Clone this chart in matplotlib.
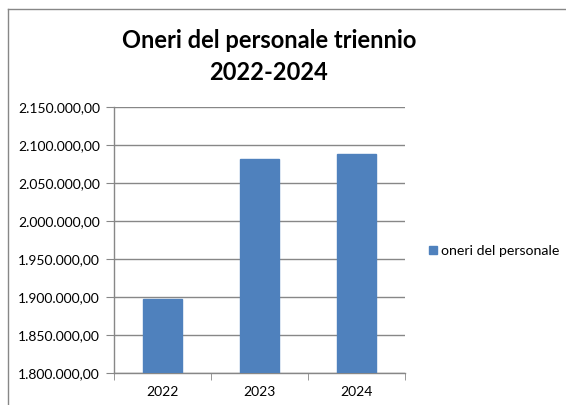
import matplotlib
matplotlib.use("Agg")
import matplotlib.pyplot as plt
from matplotlib.ticker import FuncFormatter, FixedLocator
from matplotlib.lines import Line2D

plt.rcParams["font.family"] = ["Lato", "DejaVu Sans"]

# data
years = ["2022", "2023", "2024"]
oneri = [1897500, 2081200, 2087700]
y_ticks = [1800000, 1850000, 1900000, 1950000, 2000000, 2050000, 2100000, 2150000]


def it_fmt(v, pos):
    s = f"{v:,.2f}"
    return s.replace(",", "X").replace(".", ",").replace("X", ".")


fig = plt.figure(figsize=(5.66, 4.05), dpi=100)
ax = fig.add_axes([0.2014, 0.079, 0.5141, 0.6568])

x = range(len(years))
ax.bar(x, oneri, width=0.4, color="#4F81BD", edgecolor="#4F81BD", zorder=3,
       label="oneri del personale")

ax.set_xlim(-0.5, 2.5)
ax.set_ylim(1800000, 2150000)
ax.set_yticks(y_ticks)
ax.yaxis.set_major_formatter(FuncFormatter(it_fmt))
ax.set_xticks(list(x))
ax.set_xticklabels(years)
ax.xaxis.set_minor_locator(FixedLocator([-0.5, 0.5, 1.5, 2.5]))

ax.grid(axis="y", color="#878787", linewidth=1.0, zorder=0)
for s in ["top", "right"]:
    ax.spines[s].set_visible(False)
for s in ["left", "bottom"]:
    ax.spines[s].set_color("#878787")
    ax.spines[s].set_linewidth(1.0)

ax.tick_params(axis="y", length=6, color="#878787", labelsize=10, pad=4,
               labelcolor="#000000")
ax.tick_params(axis="x", which="major", length=0, labelsize=10, pad=9)
ax.tick_params(axis="x", which="minor", length=5, color="#878787")

fig.text(0.475, 0.9, "Oneri del personale triennio", ha="center", va="center",
         fontsize=17, fontweight="bold")
fig.text(0.475, 0.822, "2022-2024", ha="center", va="center",
         fontsize=17, fontweight="bold")

handle = Line2D([], [], marker="s", linestyle="none", markersize=5.5,
                color="#4F81BD")
fig.legend([handle], ["oneri del personale"], loc="center left",
           bbox_to_anchor=(0.755, 0.38), frameon=False, fontsize=10.2,
           handletextpad=0.15, handlelength=0.8, borderpad=0.0, borderaxespad=0.0)

# chart area border (left and top)
fig.add_artist(Line2D([8 / 566, 8 / 566], [0, 1 - 9 / 405], color="#878787",
                      linewidth=1.0, transform=fig.transFigure))
fig.add_artist(Line2D([8 / 566, 1], [1 - 9 / 405, 1 - 9 / 405], color="#878787",
                      linewidth=1.0, transform=fig.transFigure))

fig.savefig("out.png", dpi=100)
